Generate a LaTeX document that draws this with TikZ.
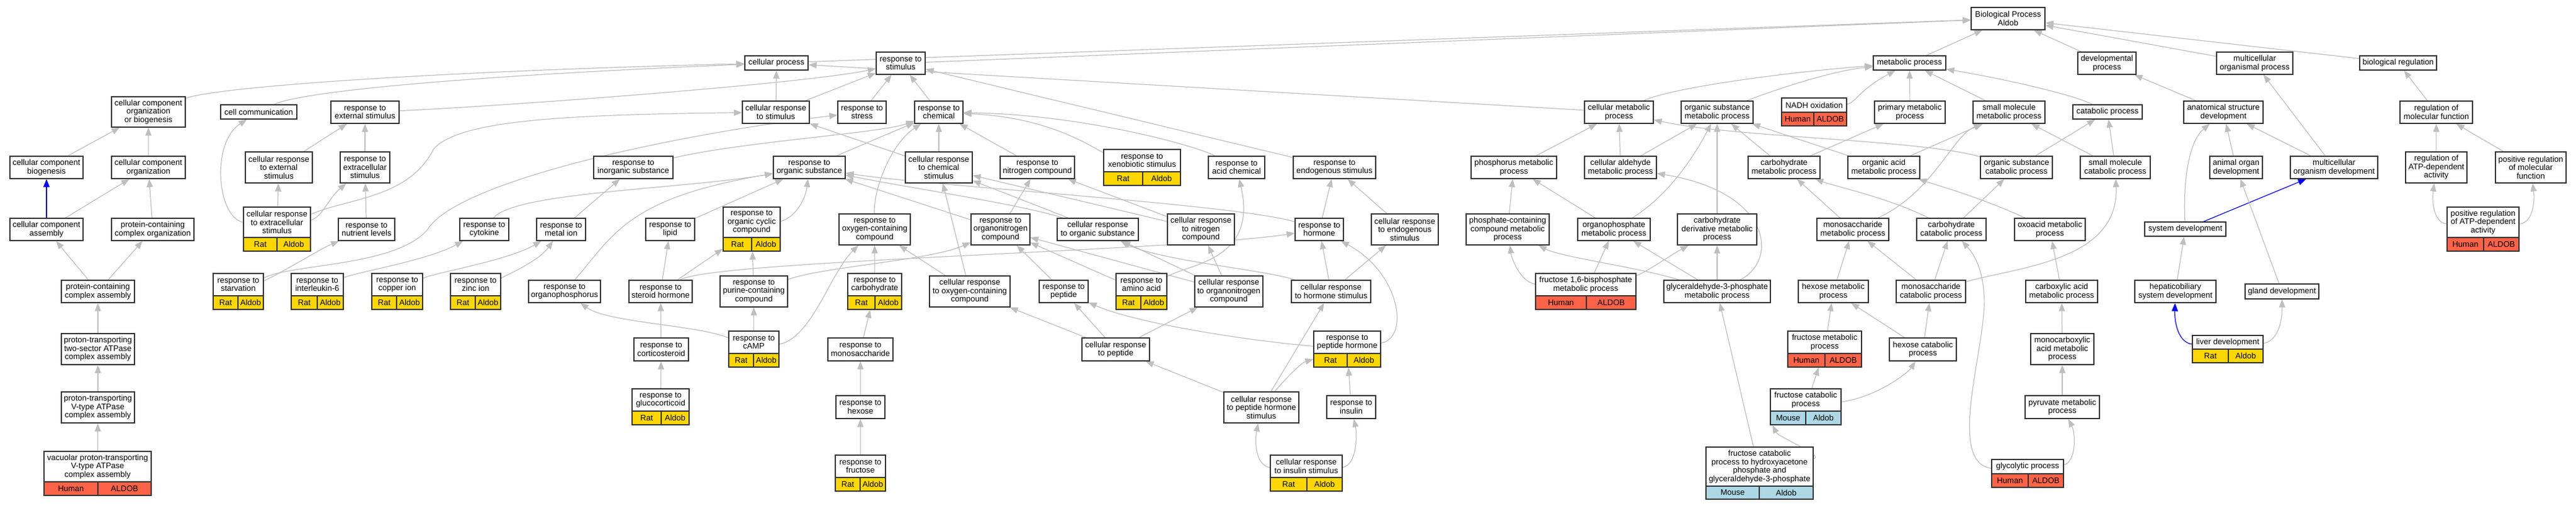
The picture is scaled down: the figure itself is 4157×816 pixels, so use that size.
\documentclass[tikz,border=0pt]{standalone}
\usepackage{fontspec}
\setmainfont{Liberation Sans}
\usetikzlibrary{arrows.meta}
\pgfdeclarelayer{background}
\pgfsetlayers{background,main}
\definecolor{edgec}{RGB}{190,190,190}
\definecolor{ratc}{RGB}{255,215,0}
\definecolor{humanc}{RGB}{255,99,71}
\definecolor{mousec}{RGB}{173,216,230}
\definecolor{framec}{RGB}{50,50,50}
\newcommand\gofont{\fontsize{13}{13.5}\selectfont}
\newcommand\sprata{Rat}\newcommand\spratb{Aldob}
\newcommand\sphumana{Human}\newcommand\sphumanb{ALDOB}
\newcommand\spmousea{Mouse}\newcommand\spmouseb{Aldob}
\tikzset{
  gobox/.style={draw=framec,line width=1.4pt,fill=white,inner sep=0pt,align=center,font=\gofont,text=black},
  labbox/.style={draw=framec,line width=1.4pt,fill=white,inner sep=0pt,align=center,font=\gofont,text=black},
  cellbox/.style={draw=framec,line width=1.4pt,inner sep=0pt,font=\gofont,text=black},
  framebox/.style={draw=framec,line width=1.4pt,inner sep=0pt},
  edge/.style={draw=edgec,line width=1.2pt,-{Triangle[length=13pt,width=10pt]}},
  bedge/.style={draw=blue,line width=1.2pt,-{Triangle[length=13pt,width=10pt]}},
}
% plain box: name, x1, x2, y1, y2, text
\newcommand\gb[6]{\node[gobox,minimum width={#3-#2},minimum height={#5-#4}] (#1) at ({(#2+#3)/2},{(#4+#5)/2}) {#6};}
% annotated box: name, x1, xsplit, x2, y1, ysplit, y2, text, species
\newcommand\ab[9]{%
  \node[labbox,minimum width={#4-#2},minimum height={#6-#5}] (#1-t) at ({(#2+#4)/2},{(#5+#6)/2}) {#8};
  \node[cellbox,fill=#9c,minimum width={#3-#2},minimum height={#7-#6}] (#1-a) at ({(#2+#3)/2},{(#6+#7)/2}) {\csname sp#9a\endcsname};
  \node[cellbox,fill=#9c,minimum width={#4-#3},minimum height={#7-#6}] (#1-b) at ({(#3+#4)/2},{(#6+#7)/2}) {\csname sp#9b\endcsname};
  \node[framebox,minimum width={#4-#2},minimum height={#7-#5}] (#1) at ({(#2+#4)/2},{(#5+#7)/2}) {};
}
\begin{document}
\begin{tikzpicture}[x=1pt,y=-1pt]
\useasboundingbox (0,0) rectangle (4157,816);
% ---------------- plain nodes
\gb{bp}{3181}{3300}{12}{48}{Biological Process\\Aldob}
\gb{cp}{1202}{1304}{90}{113}{cellular process}
\gb{rstim}{1414}{1493}{84}{120}{response to\\stimulus}
\gb{mp}{3023}{3140}{90}{113}{metabolic process}
\gb{dp}{3353}{3447}{84}{120}{developmental\\process}
\gb{mop}{3577}{3700}{84}{120}{multicellular\\organismal process}
\gb{breg}{3808}{3932}{90}{113}{biological regulation}
\gb{ccob}{180}{299}{156}{205}{cellular component\\organization\\or biogenesis}
\gb{cc}{356}{479}{169}{192}{cell communication}
\gb{rext}{534}{644}{163}{199}{response to\\external stimulus}
\gb{crs}{1198}{1306}{163}{199}{cellular response\\to stimulus}
\gb{rstress}{1352}{1430}{163}{199}{response to\\stress}
\gb{rchem}{1476}{1554}{163}{199}{response to\\chemical}
\gb{cmp}{2557}{2668}{163}{199}{cellular metabolic\\process}
\gb{osmp}{2713}{2829}{163}{199}{organic substance\\metabolic process}
\gb{pmp2}{3025}{3139}{163}{199}{primary metabolic\\process}
\gb{smmp}{3184}{3300}{163}{199}{small molecule\\metabolic process}
\gb{catp}{3345}{3457}{169}{192}{catabolic process}
\gb{asd}{3524}{3652}{163}{199}{anatomical structure\\development}
\gb{rmf}{3873}{3990}{163}{199}{regulation of\\molecular function}
\gb{ccb}{16}{134}{252}{288}{cellular component\\biogenesis}
\gb{cco}{180}{299}{252}{288}{cellular component\\organization}
\gb{crext}{396}{504}{245}{295}{cellular response\\to external\\stimulus}
\gb{rextra}{549}{629}{245}{295}{response to\\extracellular\\stimulus}
\gb{rinorg}{958}{1086}{252}{288}{response to\\inorganic substance}
\gb{rorg}{1248}{1364}{252}{288}{response to\\organic substance}
\gb{crchem}{1461}{1569}{245}{295}{cellular response\\to chemical\\stimulus}
\gb{rnitro}{1614}{1734}{252}{288}{response to\\nitrogen compound}
\gb{racid}{1950}{2041}{252}{288}{response to\\acid chemical}
\gb{rendo}{2087}{2220}{252}{288}{response to\\endogenous stimulus}
\gb{pmp}{2374}{2512}{252}{288}{phosphorus metabolic\\process}
\gb{camp}{2557}{2673}{252}{288}{cellular aldehyde\\metabolic process}
\gb{cmp2}{2821}{2937}{252}{288}{carbohydrate\\metabolic process}
\gb{oamp}{2982}{3098}{252}{288}{organic acid\\metabolic process}
\gb{oscp}{3196}{3312}{252}{288}{organic substance\\catabolic process}
\gb{smcp}{3357}{3470}{252}{288}{small molecule\\catabolic process}
\gb{aod}{3566}{3651}{252}{288}{animal organ\\development}
\gb{mod}{3696}{3837}{252}{288}{multicellular\\organism development}
\gb{ratp}{3882}{3981}{245}{295}{regulation of\\ATP-dependent\\activity}
\gb{prmf}{4027}{4141}{245}{295}{positive regulation\\of molecular\\function}
\gb{cca}{16}{134}{352}{388}{cellular component\\assembly}
\gb{pcco}{180}{313}{352}{388}{protein-containing\\complex organization}
\gb{rnut}{546}{637}{352}{388}{response to\\nutrient levels}
\gb{rcyt}{742}{821}{352}{388}{response to\\cytokine}
\gb{rmetal}{866}{945}{352}{388}{response to\\metal ion}
\gb{rlipid}{1042}{1121}{352}{388}{response to\\lipid}
\gb{roxy}{1354}{1469}{345}{395}{response to\\oxygen-containing\\compound}
\gb{rorgn}{1567}{1662}{345}{395}{response to\\organonitrogen\\compound}
\gb{crorg}{1706}{1837}{352}{388}{cellular response\\to organic substance}
\gb{crnitro}{1884}{1992}{345}{395}{cellular response\\to nitrogen\\compound}
\gb{rhormone}{2090}{2168}{352}{388}{response to\\hormone}
\gb{crendo}{2213}{2321}{345}{395}{cellular response\\to endogenous\\stimulus}
\gb{pccmp}{2366}{2500}{345}{395}{phosphate-containing\\compound metabolic\\process}
\gb{opmp}{2546}{2663}{352}{388}{organophosphate\\metabolic process}
\gb{cdmp}{2707}{2835}{345}{395}{carbohydrate\\derivative metabolic\\process}
\gb{msmp}{2932}{3048}{352}{388}{monosaccharide\\metabolic process}
\gb{ccp}{3093}{3205}{352}{388}{carbohydrate\\catabolic process}
\gb{oxmp}{3251}{3365}{352}{388}{oxoacid metabolic\\process}
\gb{sd}{3461}{3592}{358}{381}{system development}
\gb{pcca}{99}{217}{452}{488}{protein-containing\\complex assembly}
\gb{rorgp}{853}{969}{452}{488}{response to\\organophosphorus}
\gb{rsteroid}{1015}{1117}{452}{488}{response to\\steroid hormone}
\gb{rpurine}{1162}{1271}{445}{495}{response to\\purine-containing\\compound}
\gb{crox}{1500}{1630}{445}{495}{cellular response\\to oxygen-containing\\compound}
\gb{rpeptide}{1677}{1756}{452}{488}{response to\\peptide}
\gb{crorgn}{1928}{2038}{445}{495}{cellular response\\to organonitrogen\\compound}
\gb{crhs}{2084}{2212}{452}{488}{cellular response\\to hormone stimulus}
\gb{g3p}{2685}{2857}{452}{488}{glyceraldehyde-3-phosphate\\metabolic process}
\gb{hmp}{2902}{3015}{452}{488}{hexose metabolic\\process}
\gb{mscp}{3060}{3172}{452}{488}{monosaccharide\\catabolic process}
\gb{camp2}{3269}{3385}{452}{488}{carboxylic acid\\metabolic process}
\gb{hsd}{3445}{3576}{452}{488}{hepaticobiliary\\system development}
\gb{gland}{3623}{3742}{458}{482}{gland development}
\gb{pt2}{99}{217}{538}{588}{proton-transporting\\two-sector ATPase\\complex assembly}
\gb{rmono}{1336}{1441}{545}{582}{response to\\monosaccharide}
\gb{rcortico}{1023}{1111}{545}{582}{response to\\corticosteroid}
\gb{crpeptide}{1746}{1855}{545}{582}{cellular response\\to peptide}
\gb{hcp}{3049}{3157}{545}{582}{hexose catabolic\\process}
\gb{mcamp}{3277}{3379}{538}{588}{monocarboxylic\\acid metabolic\\process}
\gb{ptv}{99}{217}{632}{682}{proton-transporting\\V-type ATPase\\complex assembly}
\gb{rhexose}{1349}{1428}{638}{675}{response to\\hexose}
\gb{crph}{1975}{2096}{632}{682}{cellular response\\to peptide hormone\\stimulus}
\gb{rins}{2141}{2220}{638}{675}{response to\\insulin}
\gb{pyr}{3268}{3388}{638}{675}{pyruvate metabolic\\process}
% ---------------- annotated nodes
\ab{crextra}{393}{447}{501}{334}{383}{405}{cellular response\\to extracellular\\stimulus}{rat}
\ab{rocc}{1167}{1213}{1259}{334}{383}{405}{response to\\organic cyclic\\compound}{rat}
\ab{rxeno}{1781}{1844}{1905}{241}{277}{299}{response to\\xenobiotic stimulus}{rat}
\ab{nadh}{2875}{2927}{2980}{158}{181}{203}{NADH oxidation}{human}
\ab{pratp}{3949}{4008}{4065}{334}{383}{405}{positive regulation\\of ATP-dependent\\activity}{human}
\ab{vac}{71}{158}{244}{728}{777}{799}{vacuolar proton-transporting\\V-type ATPase\\complex assembly}{human}
\ab{rstarv}{344}{384}{425}{441}{477}{499}{response to\\starvation}{rat}
\ab{ril6}{470}{512}{554}{441}{477}{499}{response to\\interleukin-6}{rat}
\ab{rcu}{600}{640}{682}{441}{477}{499}{response to\\copper ion}{rat}
\ab{rzn}{727}{767}{808}{441}{477}{499}{response to\\zinc ion}{rat}
\ab{rcarb}{1368}{1412}{1455}{441}{477}{499}{response to\\carbohydrate}{rat}
\ab{ramino}{1801}{1841}{1883}{441}{477}{499}{response to\\amino acid}{rat}
\ab{f16bp}{2478}{2560}{2640}{441}{477}{499}{fructose 1,6-bisphosphate\\metabolic process}{human}
\ab{rcamp}{1176}{1216}{1257}{534}{570}{592}{response to\\cAMP}{rat}
\ab{rph}{2120}{2174}{2228}{534}{570}{592}{response to\\peptide hormone}{rat}
\ab{fmp}{2885}{2945}{3004}{534}{570}{592}{fructose metabolic\\process}{human}
\ab{liver}{3538}{3596}{3652}{541}{563}{585}{liver development}{rat}
\ab{rgluco}{1020}{1067}{1112}{627}{663}{685}{response to\\glucocorticoid}{rat}
\ab{fcp}{2857}{2914}{2971}{627}{663}{685}{fructose catabolic\\process}{mouse}
\ab{rfruct}{1348}{1388}{1429}{734}{770}{792}{response to\\fructose}{rat}
\ab{crins}{2050}{2109}{2166}{734}{770}{792}{cellular response\\to insulin stimulus}{rat}
\ab{glyc}{3214}{3273}{3330}{741}{764}{786}{glycolytic process}{human}
\ab{fcp2}{2753}{2839}{2926}{721}{784}{805}{fructose catabolic\\process to hydroxyacetone\\phosphate and\\glyceraldehyde-3-phosphate}{mouse}
% ---------------- edges
\begin{pgfonlayer}{background}
\fill[white] (0,0) rectangle (4157,816);
% top
\draw[edge] (cp) -- (bp);
\draw[edge] (rstim) -- (bp);
\draw[edge] (mp) -- (bp);
\draw[edge] (dp) -- (bp);
\draw[edge] (mop) -- (bp);
\draw[edge] (breg) -- (bp);
\draw[edge] (ccob) .. controls (350,140) and (700,115) .. (cp);
\draw[edge] (cc) .. controls (480,150) and (700,125) .. (cp);
\draw[edge] (crs) -- (cp);
\draw[edge] (cmp) -- (cp);
\draw[edge] (rext) .. controls (800,172) and (1300,135) .. (rstim);
\draw[edge] (crs) -- (rstim);
\draw[edge] (rstress) -- (rstim);
\draw[edge] (rchem) -- (rstim);
\draw[edge] (rendo) -- (rstim);
% left cluster
\draw[edge] (ccb) -- (ccob);
\draw[edge] (cco) -- (ccob);
\draw[bedge] (cca) -- (ccb);
\draw[edge] (cca) -- (cco);
\draw[edge] (pcco) -- (cco);
\draw[edge] (pcca) -- (cca);
\draw[edge] (pcca) -- (pcco);
\draw[edge] (pt2) -- (pcca);
\draw[edge] (ptv) -- (pt2);
\draw[edge] (vac) -- (ptv);
\draw[edge] (crextra) .. controls (350,350) and (340,230) .. (cc);
\draw[edge] (crextra) -- (crext);
\draw[edge] (crextra) .. controls (520,350) and (530,320) .. (rextra);
\draw[edge] (crextra) .. controls (560,320) and (660,320) .. (700,240) .. controls (740,195) and (900,185) .. (crs);
\draw[edge] (crext) -- (rext);
\draw[edge] (rextra) -- (rext);
\draw[edge] (rnut) -- (rextra);
\draw[edge] (rstarv) .. controls (445,445) and (520,400) .. (rnut);
\draw[edge] (rstarv) .. controls (470,425) and (640,430) .. (690,370) .. controls (740,290) and (1100,215) .. (rstress);
\draw[edge] (ril6) .. controls (570,440) and (690,420) .. (rcyt);
\draw[edge] (rcu) .. controls (700,440) and (820,420) .. (rmetal);
\draw[edge] (rzn) .. controls (825,440) and (870,420) .. (rmetal);
\draw[edge] (rcyt) .. controls (830,310) and (1100,305) .. (rorg);
\draw[edge] (rmetal) -- (rinorg);
\draw[edge] (rinorg) .. controls (1200,228) and (1420,215) .. (rchem);
\draw[edge] (rorgp) .. controls (990,380) and (1010,320) .. (rorg);
\draw[edge] (rlipid) -- (rorg);
\draw[edge] (rocc) .. controls (1285,350) and (1300,320) .. (rorg);
\draw[edge] (rorg) -- (rchem);
\draw[edge] (roxy) .. controls (1410,300) and (1440,230) .. (rchem);
\draw[edge] (crchem) -- (rchem);
\draw[edge] (crchem) -- (crs);
\draw[edge] (rnitro) -- (rchem);
\draw[edge] (rxeno) .. controls (1765,240) and (1700,190) .. (rchem);
\draw[edge] (racid) .. controls (1930,235) and (1750,185) .. (rchem);
\draw[edge] (rorgn) -- (rorg);
\draw[edge] (rorgn) -- (rnitro);
\draw[edge] (crorg) .. controls (1650,330) and (1450,300) .. (rorg);
\draw[edge] (crorg) -- (crchem);
\draw[edge] (crnitro) -- (rnitro);
\draw[edge] (crnitro) -- (crchem);
\draw[edge] (crox) -- (roxy);
\draw[edge] (crox) -- (crchem);
\draw[edge] (rpeptide) -- (rorgn);
\draw[edge] (ramino) .. controls (1920,425) and (2030,420) .. (racid);
\draw[edge] (ramino) -- (rorgn);
\draw[edge] (crorgn) -- (crorg);
\draw[edge] (crorgn) -- (crnitro);
\draw[edge] (crorgn) -- (rorgn);
\draw[edge] (crpeptide) -- (crox);
\draw[edge] (crpeptide) -- (rpeptide);
\draw[edge] (crpeptide) -- (crorgn);
\draw[edge] (crph) -- (crpeptide);
\draw[edge] (crph) -- (crhs);
\draw[edge] (crph) .. controls (2075,610) and (2100,585) .. (rph);
\draw[edge] (crins) .. controls (2025,750) and (2025,710) .. (crph);
\draw[edge] (crins) .. controls (2190,750) and (2190,700) .. (rins);
\draw[edge] (rins) -- (rph);
\draw[edge] (rph) .. controls (2000,548) and (1830,520) .. (rpeptide);
\draw[edge] (rph) .. controls (2275,545) and (2260,440) .. (rhormone);
\draw[edge] (crhs) -- (rhormone);
\draw[edge] (crhs) -- (crendo);
\draw[edge] (crhs) .. controls (2040,435) and (1870,420) .. (crorg);
\draw[edge] (rhormone) -- (rendo);
\draw[edge] (crendo) -- (rendo);
\draw[edge] (rhormone) .. controls (2000,330) and (1500,300) .. (rorg);
\draw[edge] (rsteroid) -- (rlipid);
\draw[edge] (rsteroid) -- (rocc);
\draw[edge] (rsteroid) .. controls (1150,420) and (1900,405) .. (rhormone);
\draw[edge] (rcortico) -- (rsteroid);
\draw[edge] (rgluco) -- (rcortico);
\draw[edge] (rpurine) -- (rocc);
\draw[edge] (rpurine) .. controls (1330,430) and (1500,420) .. (rorgn);
\draw[edge] (rcamp) -- (rpurine);
\draw[edge] (rcamp) .. controls (1130,525) and (980,520) .. (rorgp);
\draw[edge] (rcamp) .. controls (1310,545) and (1340,440) .. (roxy);
\draw[edge] (rcarb) -- (roxy);
\draw[edge] (rmono) -- (rcarb);
\draw[edge] (rhexose) -- (rmono);
\draw[edge] (rfruct) -- (rhexose);
% metabolic
\draw[edge] (cmp) .. controls (2700,140) and (2900,115) .. (mp);
\draw[edge] (osmp) .. controls (2850,150) and (2950,115) .. (mp);
\draw[edge] (pmp2) -- (mp);
\draw[edge] (smmp) -- (mp);
\draw[edge] (catp) .. controls (3340,150) and (3220,125) .. (mp);
\draw[edge] (nadh) .. controls (2995,165) and (3000,145) .. (mp);
\draw[edge] (pmp) -- (cmp);
\draw[edge] (camp) -- (cmp);
\draw[edge] (camp) -- (osmp);
\draw[edge] (oscp) .. controls (3100,225) and (2800,222) .. (cmp);
\draw[edge] (pccmp) -- (pmp);
\draw[edge] (opmp) -- (pmp);
\draw[edge] (opmp) .. controls (2700,310) and (2740,240) .. (osmp);
\draw[edge] (cdmp) -- (osmp);
\draw[edge] (f16bp) .. controls (2455,455) and (2440,420) .. (pccmp);
\draw[edge] (f16bp) -- (opmp);
\draw[edge] (f16bp) .. controls (2655,440) and (2690,415) .. (cdmp);
\draw[edge] (g3p) .. controls (2640,430) and (2520,415) .. (pccmp);
\draw[edge] (g3p) -- (opmp);
\draw[edge] (g3p) -- (cdmp);
\draw[edge] (g3p) .. controls (2870,420) and (2860,310) .. (camp);
\draw[edge] (cmp2) -- (pmp2);
\draw[edge] (cmp2) -- (osmp);
\draw[edge] (oamp) -- (osmp);
\draw[edge] (oamp) -- (smmp);
\draw[edge] (oscp) -- (catp);
\draw[edge] (smcp) -- (smmp);
\draw[edge] (smcp) -- (catp);
\draw[edge] (msmp) -- (cmp2);
\draw[edge] (msmp) .. controls (3120,310) and (3150,220) .. (smmp);
\draw[edge] (ccp) .. controls (3050,320) and (2960,300) .. (cmp2);
\draw[edge] (ccp) -- (oscp);
\draw[edge] (oxmp) .. controls (3200,320) and (3130,300) .. (oamp);
\draw[edge] (hmp) -- (msmp);
\draw[edge] (mscp) -- (msmp);
\draw[edge] (mscp) -- (ccp);
\draw[edge] (mscp) .. controls (3260,430) and (3420,420) .. (smcp);
\draw[edge] (fmp) -- (hmp);
\draw[edge] (hcp) -- (hmp);
\draw[edge] (hcp) -- (mscp);
\draw[edge] (fcp) -- (fmp);
\draw[edge] (fcp) .. controls (3030,640) and (3080,600) .. (hcp);
\draw[edge] (fcp2) .. controls (2945,735) and (2870,705) .. ([xshift=4pt]fcp.south west);
\draw[edge] (fcp2) -- (g3p);
\draw[edge] (camp2) -- (oxmp);
\draw[edge] (mcamp) -- (camp2);
\draw[edge] (pyr) -- (mcamp);
\draw[edge] (glyc) .. controls (3350,745) and (3350,700) .. (pyr);
\draw[edge] (glyc) .. controls (3140,745) and (3205,560) .. (3202,480) .. controls (3200,440) and (3190,415) .. (ccp);
% development and regulation
\draw[edge] (asd) -- (dp);
\draw[edge] (mod) -- (asd);
\draw[edge] (mod) -- (mop);
\draw[edge] (aod) -- (asd);
\draw[bedge] (sd) -- (mod);
\draw[edge] (sd) .. controls (3523,300) and (3530,230) .. (asd);
\draw[edge] (hsd) -- (sd);
\draw[edge] (gland) -- (aod);
\draw[bedge] (liver) .. controls (3515,552) and (3509,520) .. (hsd);
\draw[edge] (liver) .. controls (3675,550) and (3683,520) .. (gland);
\draw[edge] (rmf) -- (breg);
\draw[edge] (ratp) -- (rmf);
\draw[edge] (prmf) -- (rmf);
\draw[edge] (pratp) .. controls (3925,358) and (3925,320) .. (ratp);
\draw[edge] (pratp) .. controls (4090,358) and (4090,320) .. (prmf);
\end{pgfonlayer}
\end{tikzpicture}
\end{document}
